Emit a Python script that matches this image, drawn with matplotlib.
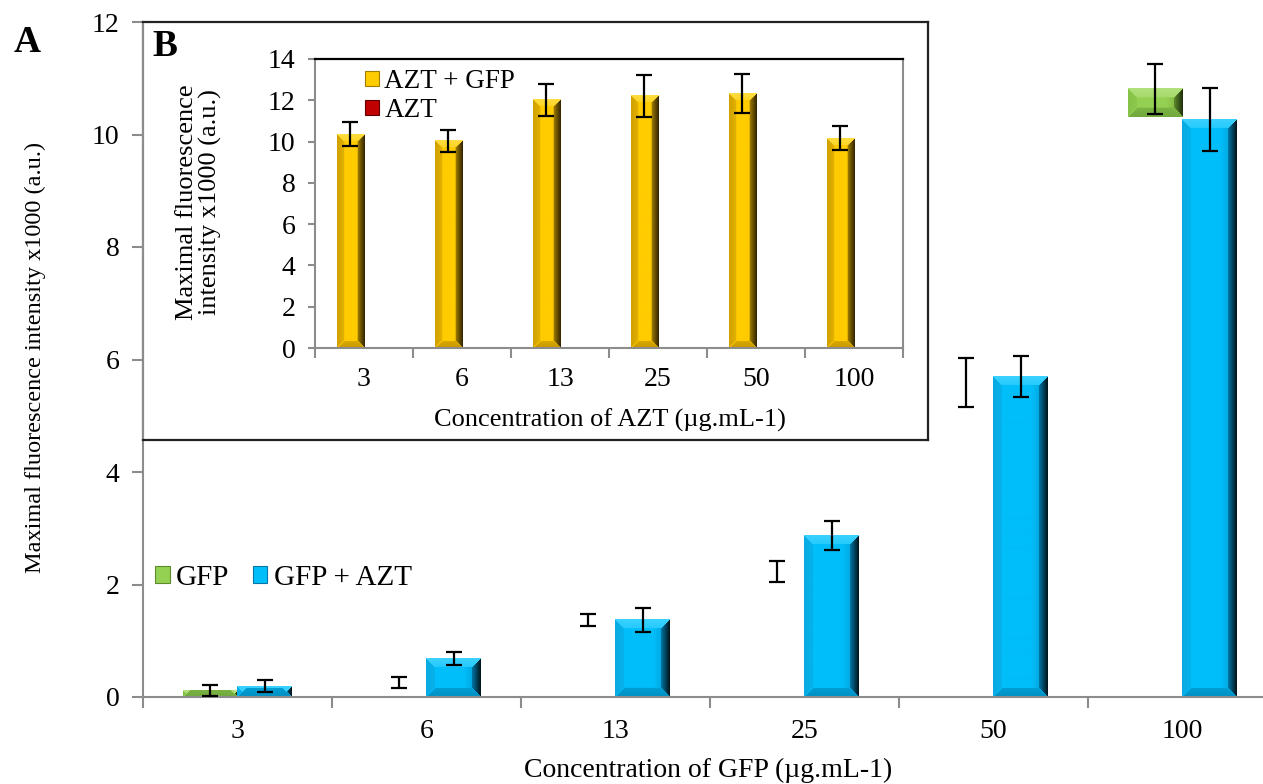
import numpy as np
import matplotlib
matplotlib.use('Agg')
import matplotlib.pyplot as plt
from matplotlib.patches import Patch
from matplotlib.colors import to_rgb

plt.rcParams['font.family'] = ['Liberation Serif', 'DejaVu Serif']

# ---------------- data ----------------
categories = ['3', '6', '13', '25', '50', '100']
gfp = [0.12, 0.26, 1.375, 2.23, 5.585, 10.81]
gfp_err = [0.10, 0.10, 0.105, 0.18, 0.435, 0.44]
gfp_visible = [0.12, 0.0, 0.0, 0.0, 0.0, 0.50]   # part of the GFP bars that is visible in the source
gfp_azt = [0.195, 0.686, 1.37, 2.87, 5.69, 10.27]
gfp_azt_err = [0.105, 0.12, 0.215, 0.26, 0.365, 0.56]

azt_categories = ['3', '6', '13', '25', '50', '100']
azt_gfp = [10.35, 10.03, 12.02, 12.21, 12.31, 10.16]
azt_gfp_err = [0.58, 0.54, 0.785, 1.02, 0.945, 0.575]
azt = [0, 0, 0, 0, 0, 0]

W_FIG, H_FIG = 1263, 784
GRAY = '#8c8c8c'
FS = 20

BLUE = dict(base='#00BEFA', light='#3DD2FF', dark1='#0078A8', dark2='#001218',
            bottom='#0090C4', left='#0AAAE2')
GREEN = dict(base='#94D152', light='#B2E07C', dark1='#5E8A2C', dark2='#1E2E0A',
             bottom='#72A83E', left='#86C248')
GOLD = dict(base='#FFCC00', light='#FFDD40', dark1='#A07C00', dark2='#302200',
            bottom='#C89800', left='#D0A000')


def mix(c1, c2, t):
    a = np.array(to_rgb(c1)); b = np.array(to_rgb(c2))
    t = np.clip(np.asarray(t, dtype=float), 0, 1)[..., None]
    return a * (1 - t) + b * t


def shade_bars(ax, bars, pal, bevel=9):
    for p in bars:
        h = p.get_height()
        if h <= 0:
            continue
        x0, y0, wd = p.get_x(), p.get_y(), p.get_width()
        (px0, py0) = ax.transData.transform((x0, y0))
        (px1, py1) = ax.transData.transform((x0 + wd, y0 + h))
        W = max(int(round(px1 - px0)), 2)
        H = max(int(round(py1 - py0)), 1)
        X, Y = np.meshgrid(np.arange(W) + 0.5, np.arange(H) + 0.5)
        dl, dr, dt, db = X, W - X, Y, H - Y
        b = min(bevel, W / 3.0)
        t = X / W
        img = mix(pal['base'], pal['dark1'], (t - 0.7) / 0.3 * 0.6)
        top = (dt < b) & (dt <= dl) & (dt <= dr)
        right = (dr < b) & (dr < dt) & (dr < db)
        bot = (db < b) & (db < dl) & (db < dr)
        left = (dl < b) & (dl < dt) & (dl < db)
        img[left] = mix(pal['left'], pal['base'], dl[left] / b * 0.4)
        img[top] = mix(pal['light'], pal['base'], dt[top] / b * 0.4)
        img[bot] = mix(pal['bottom'], pal['base'], db[bot] / b * 0.3)
        img[right] = mix(pal['dark1'], pal['dark2'], 1 - dr[right] / b)
        ax.imshow(img, extent=(x0, x0 + wd, y0, y0 + h), origin='upper',
                  aspect='auto', interpolation='bilinear', zorder=p.get_zorder() + 0.1)


fig = plt.figure(figsize=(W_FIG / 100, H_FIG / 100), dpi=100)

# ---------------- main axes ----------------
ax = fig.add_axes([143 / W_FIG, 1 - 697 / H_FIG, 1134 / W_FIG, 675 / H_FIG])
x = np.arange(len(categories))
w = 0.29
ax.set_xlim(-0.5, 5.5)
ax.set_ylim(0, 12)
bottoms = np.array(gfp) - np.array(gfp_visible)
bg = ax.bar(x - w / 2, gfp_visible, w, bottom=bottoms, color=GREEN['base'], zorder=2)
bb = ax.bar(x + w / 2, gfp_azt, w, color=BLUE['base'], zorder=2)
shade_bars(ax, bg, GREEN, bevel=9)
shade_bars(ax, bb, BLUE, bevel=9)
ax.errorbar(x - w / 2, gfp, yerr=gfp_err, fmt='none', ecolor='black',
            elinewidth=1.6, capsize=6, capthick=1.6, zorder=4)
ax.errorbar(x + w / 2, gfp_azt, yerr=gfp_azt_err, fmt='none', ecolor='black',
            elinewidth=1.6, capsize=6, capthick=1.6, zorder=4)
ax.set_xlim(-0.5, 5.5)
ax.set_ylim(0, 12)
for s in ['top', 'right']:
    ax.spines[s].set_visible(False)
for s in ['left', 'bottom']:
    ax.spines[s].set_color(GRAY)
    ax.spines[s].set_linewidth(1.5)
ax.set_yticks(range(0, 13, 2))
ax.set_xticks(x)
ax.set_xticklabels(categories)
ax.set_xticks(np.arange(-0.5, 6, 1), minor=True)
ax.tick_params(axis='y', direction='out', length=8, width=1.5, color=GRAY,
               labelsize=FS, pad=9)
ax.tick_params(axis='x', which='major', length=0, labelsize=FS, pad=16)
ax.tick_params(axis='x', which='minor', direction='out', length=8, width=1.5, color=GRAY)

fig.text(708 / W_FIG, 1 - 770 / H_FIG, 'Concentration of GFP (µg.mL-1)', fontsize=FS,
         ha='center', va='center')
fig.text(35 / W_FIG, 1 - 357 / H_FIG, 'Maximal fluorescence intensity x1000 (a.u.)',
         fontsize=17.5, rotation=90, ha='center', va='center')
fig.text(27 / W_FIG, 1 - 42 / H_FIG, 'A', fontsize=27, fontweight='bold',
         ha='center', va='center')

leg = fig.legend(handles=[Patch(facecolor=GREEN['base'], edgecolor=GREEN['dark1'], linewidth=0.8),
                          Patch(facecolor=BLUE['base'], edgecolor=BLUE['dark1'], linewidth=0.8)],
                 labels=['GFP', 'GFP + AZT'], ncol=2, frameon=False, fontsize=21,
                 loc='center left', bbox_to_anchor=(155 / W_FIG, 1 - 578 / H_FIG),
                 handlelength=0.5, handleheight=0.5, handletextpad=0.22,
                 columnspacing=0.8, borderpad=0, borderaxespad=0)

# ---------------- inset box ----------------
box = fig.add_axes([143 / W_FIG, 1 - 440 / H_FIG, (928 - 143) / W_FIG, (440 - 22) / H_FIG])
box.set_xticks([]); box.set_yticks([])
for s in box.spines.values():
    s.set_color('#222222'); s.set_linewidth(1.6)
box.spines['left'].set_color(GRAY)
box.set_facecolor('white')

fig.text(165 / W_FIG, 1 - 47 / H_FIG, 'B', fontsize=27, fontweight='bold',
         ha='center', va='center')

# ---------------- inset axes ----------------
ins = fig.add_axes([315 / W_FIG, 1 - 348 / H_FIG, 588 / W_FIG, 289 / H_FIG])
xi = np.arange(len(azt_categories))
wi = 0.28
ins.set_xlim(-0.5, 5.5)
ins.set_ylim(0, 14)
bi = ins.bar(xi - wi / 2, azt_gfp, wi, color=GOLD['base'], zorder=2)
ba = ins.bar(xi + wi / 2, azt, wi, color='#C00000', zorder=2)
shade_bars(ins, bi, GOLD, bevel=7)
ins.errorbar(xi - wi / 2, azt_gfp, yerr=azt_gfp_err, fmt='none', ecolor='black',
             elinewidth=1.6, capsize=6, capthick=1.6, zorder=4)
ins.set_xlim(-0.5, 5.5)
ins.set_ylim(0, 14)
for s in ['left', 'bottom', 'right']:
    ins.spines[s].set_color(GRAY)
    ins.spines[s].set_linewidth(1.5)
ins.spines['top'].set_color('black')
ins.spines['top'].set_linewidth(1.6)
ins.set_yticks(range(0, 15, 2))
ins.set_xticks(xi)
ins.set_xticklabels(azt_categories)
ins.set_xticks(np.arange(-0.5, 6, 1), minor=True)
ins.tick_params(axis='y', direction='out', length=5, width=1.5, color=GRAY,
                labelsize=FS, pad=9)
ins.tick_params(axis='x', which='major', length=0, labelsize=FS, pad=14)
ins.tick_params(axis='x', which='minor', direction='out', length=7, width=1.5, color=GRAY)

fig.text(610 / W_FIG, 1 - 420 / H_FIG, 'Concentration of AZT (µg.mL-1)', fontsize=19,
         ha='center', va='center')
fig.text(199 / W_FIG, 1 - 202 / H_FIG, 'Maximal fluorescence\nintensity x1000 (a.u.)',
         fontsize=19, rotation=90, ha='center', va='center', linespacing=1.0)

ins.legend(handles=[Patch(facecolor=GOLD['base'], edgecolor=GOLD['dark1'], linewidth=0.8),
                    Patch(facecolor='#C00000', edgecolor='#600000', linewidth=0.8)],
           labels=['AZT + GFP', 'AZT'], frameon=False, fontsize=19.5,
           loc='upper left', bbox_to_anchor=(365 / W_FIG, 1 - 69 / H_FIG),
           bbox_transform=fig.transFigure,
           handlelength=0.5, handleheight=0.5, handletextpad=0.22,
           labelspacing=0.15, borderpad=0, borderaxespad=0)

fig.savefig('out.png', dpi=100)
